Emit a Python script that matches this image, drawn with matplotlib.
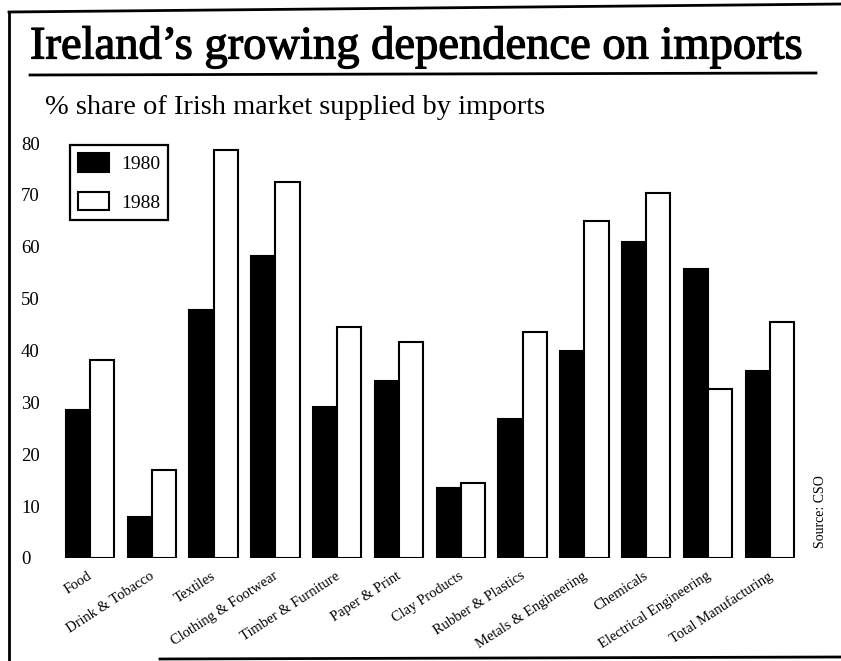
import matplotlib
matplotlib.use("Agg")
import matplotlib.pyplot as plt
import matplotlib.patheffects as pe
from matplotlib.lines import Line2D
import numpy as np

categories = ["Food", "Drink & Tobacco", "Textiles", "Clothing & Footwear",
              "Timber & Furniture", "Paper & Print", "Clay Products",
              "Rubber & Plastics", "Metals & Engineering", "Chemicals",
              "Electrical Engineering", "Total Manufacturing"]
share_1980 = [28.6, 8.0, 47.9, 58.2, 29.1, 34.2, 13.4, 26.7, 40.0, 61.0, 55.7, 36.0]
share_1988 = [38.2, 17.0, 78.6, 72.5, 44.5, 41.7, 14.4, 43.6, 65.0, 70.3, 32.6, 45.5]
yticks = [0, 10, 20, 30, 40, 50, 60, 70, 80]

W, H = 841, 661
fig = plt.figure(figsize=(W / 100, H / 100), dpi=100)
plt.rcParams["font.family"] = ["Liberation Serif", "DejaVu Serif"]

def fx(px):
    return px / W

def fy(py):
    return 1 - py / H

# axes placement (pixel box)
ax_l, ax_r, ax_t, ax_b = 40, 800, 143, 558
ax = fig.add_axes([fx(ax_l), fy(ax_b), fx(ax_r) - fx(ax_l), fy(ax_t) - fy(ax_b)])

x = np.arange(len(categories))
w = 0.39
ax.bar(x - w / 2, share_1980, width=w, color="black", edgecolor="black",
       linewidth=1.5, label="1980")
ax.bar(x + w / 2, share_1988, width=w, color="white", edgecolor="black",
       linewidth=1.5, label="1988")

first_c, step = 90, 61.8
ax.set_xlim((ax_l - first_c) / step, (ax_r - first_c) / step)
ax.set_ylim(0, 80)
for s in ax.spines.values():
    s.set_visible(False)
ax.set_yticks(yticks)
ax.set_yticklabels([str(t) for t in yticks], fontsize=13.5)
ax.tick_params(axis="y", length=0, pad=0)
ax.tick_params(axis="x", length=0)
ax.set_xticks([])
for yl in ax.get_yticklabels():
    yl.set_horizontalalignment("left")
    yl.set_x(-(ax_l - 21) / (ax_r - ax_l))

for i, name in enumerate(categories):
    ax.text(i - 0.04, -2.2, name, rotation=33, rotation_mode="anchor",
            ha="right", va="top", fontsize=10.5, transform=ax.transData)

leg = ax.legend(loc="upper left", bbox_to_anchor=(fx(70), fy(145)),
                bbox_transform=fig.transFigure, fontsize=14, frameon=True,
                fancybox=False, edgecolor="black", framealpha=1,
                handlelength=1.6, handleheight=1.1, labelspacing=0.95,
                borderpad=0.42, handletextpad=0.6, borderaxespad=0)
leg.get_frame().set_linewidth(1.6)

# title, rule and subtitle
title = fig.text(fx(30), fy(47), "Ireland\u2019s growing dependence on imports",
                 fontsize=33.5, ha="left", va="center")
title.set_path_effects([pe.withStroke(linewidth=0.9, foreground="black")])
fig.add_artist(Line2D([fx(30), fx(816)], [fy(75), fy(73)], color="black", lw=2))
fig.text(fx(45), fy(107), "% share of Irish market supplied by imports",
         fontsize=20.5, ha="left", va="center")

fig.text(fx(821), fy(512), "Source: CSO", rotation=90, fontsize=10,
         ha="center", va="center")

# page frame
fig.add_artist(Line2D([fx(9), fx(9)], [fy(12), fy(661)], color="black", lw=2))
fig.add_artist(Line2D([fx(9), fx(841)], [fy(12), fy(4)], color="black", lw=2))
fig.add_artist(Line2D([fx(160), fx(841)], [fy(659), fy(657)], color="black", lw=2))

fig.savefig("out.png", dpi=100)
